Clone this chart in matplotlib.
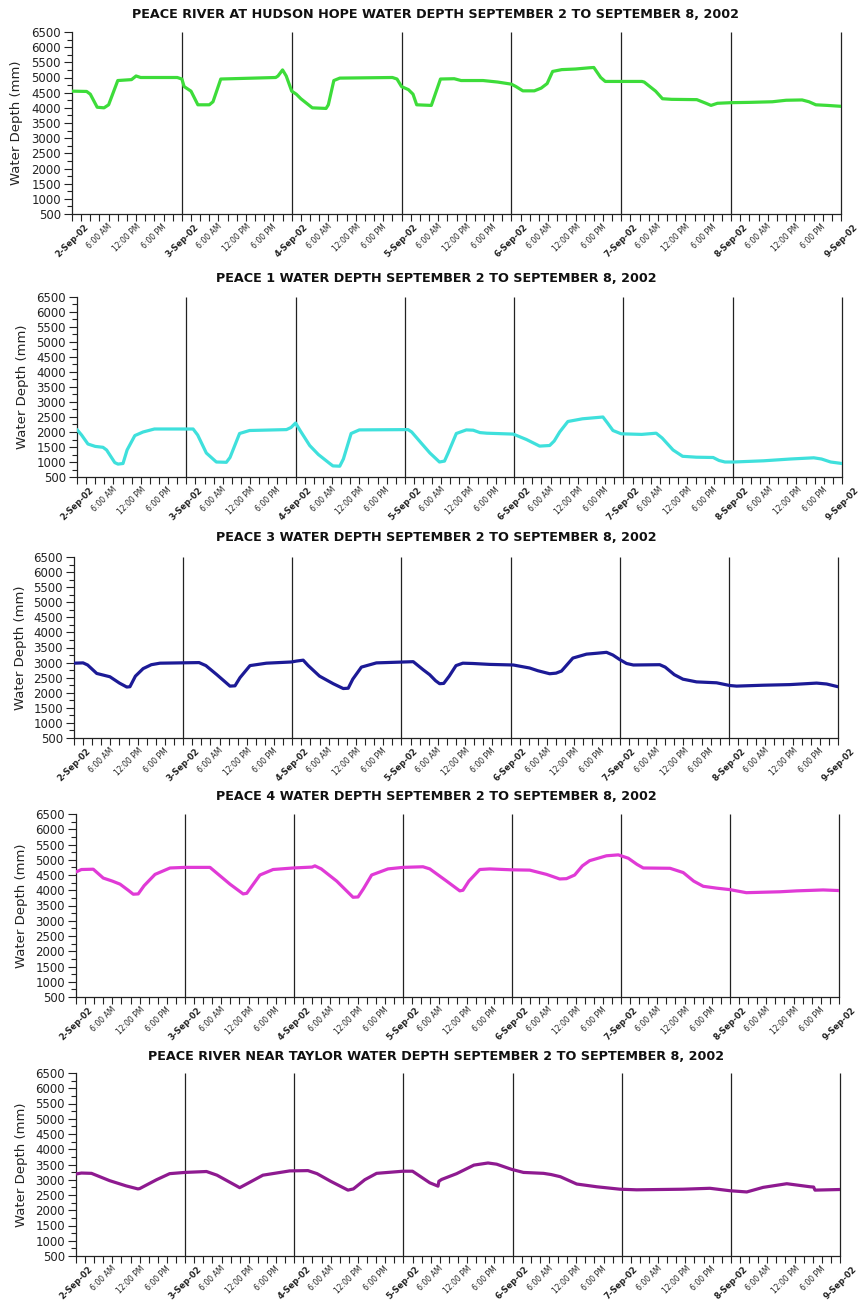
import matplotlib
matplotlib.use("Agg")
import matplotlib.pyplot as plt
from matplotlib.ticker import MultipleLocator, FixedLocator, FixedFormatter

# hours after 2-Sep-02 00:00 and water depth (mm) for each station
hudson_hours = [0, 3.2, 4.0, 5.5, 7.0, 8.0, 10.0, 13.0, 14.0, 15.0, 23.0, 24.0,
                24.5, 26.0, 27.5, 30.0, 30.8, 32.5, 44.5, 45.0, 46.0, 46.8, 48.0,
                49.0, 50.0, 52.5, 55.5, 56.0, 57.2, 58.5, 70.0, 71.0, 72.0,
                73.5, 74.5, 75.3, 78.5, 80.5, 83.5, 85.0, 89.8, 93.0, 96.0,
                97.0, 98.5, 101.0, 102.5, 103.8, 105.0, 107.0, 110.0, 113.0, 114.0,
                115.5, 116.5, 124.5, 125.0, 127.5, 129.0, 131.0, 136.5, 138.5,
                139.6, 141.0, 144.0, 148.0, 153.0, 156.0, 159.5, 161.0, 162.5,
                165.0, 168.0]
hudson_depth = [4550, 4540, 4450, 4020, 4000, 4100, 4900, 4930, 5050, 5000, 5000, 4950,
                4700, 4550, 4100, 4100, 4200, 4950, 5000, 5050, 5250, 5050, 4550,
                4450, 4300, 4000, 3980, 4100, 4900, 4980, 5000, 4950, 4700,
                4600, 4450, 4100, 4080, 4950, 4960, 4900, 4900, 4850, 4780,
                4700, 4560, 4560, 4650, 4800, 5200, 5260, 5280, 5320, 5330,
                5000, 4870, 4870, 4850, 4550, 4300, 4280, 4270, 4150,
                4080, 4150, 4170, 4180, 4200, 4250, 4260, 4200, 4100,
                4080, 4050]

peace1_hours = [0, 1.0, 2.4, 4.0, 5.7, 6.5, 8.3, 9.0, 10.1, 11.0, 12.7, 14.5, 17.0,
                25.5, 26.5, 28.4, 30.6, 32.8, 33.6, 35.7, 37.9, 46.0, 47.0, 48.0,
                49.0, 51.1, 53.0, 55.5, 56.2, 57.7, 58.5, 60.2, 62.0, 72.7, 73.5,
                75.6, 77.5, 79.6, 80.7, 81.5, 83.3, 85.5, 87.0, 88.5, 90.0, 95.8,
                98.7, 101.6, 103.8, 104.8, 106.0, 107.8, 111.0, 115.5, 116.5, 117.7,
                119.5, 124.0, 127.2, 128.5, 130.9, 133.0, 136.0, 139.7, 141.0, 142.3,
                144.2, 150.8, 156.7, 161.8, 163.5, 165.5, 168.0]
peace1_depth = [2080, 1900, 1600, 1520, 1490, 1400, 980, 930, 950, 1400, 1880, 2000, 2100,
                2100, 1900, 1300, 1000, 990, 1150, 1950, 2050, 2080, 2150, 2300,
                2050, 1550, 1250, 950, 870, 860, 1100, 1950, 2070, 2080, 2000,
                1630, 1300, 1000, 1030, 1300, 1950, 2070, 2060, 1980, 1960, 1930,
                1750, 1530, 1550, 1700, 2000, 2350, 2440, 2500, 2300, 2050,
                1940, 1920, 1960, 1800, 1400, 1190, 1160, 1150, 1050, 1000,
                1000, 1040, 1100, 1140, 1100, 1000, 950]

peace3_hours = [0, 2.0, 3.0, 5.0, 7.9, 10.0, 11.6, 12.3, 13.5, 15.2, 17.0, 18.9, 27.5,
                29.0, 31.4, 34.3, 35.4, 36.5, 38.7, 42.3, 47.8, 48.9, 50.4, 51.5,
                54.0, 57.0, 59.2, 60.3, 61.3, 63.2, 66.5, 74.6, 76.8, 78.2, 79.5,
                80.4, 81.3, 82.5, 84.0, 85.5, 87.7, 91.4, 96.6, 100.2, 102.0,
                104.6, 106.0, 107.2, 109.7, 112.7, 115.0, 117.1, 118.5, 120.0,
                121.5, 123.0, 128.8, 130.0, 132.0, 133.9, 136.9, 141.3, 144.2,
                145.7, 151.6, 157.4, 163.3, 165.5, 168.0]
peace3_depth = [2980, 2990, 2920, 2640, 2530, 2320, 2190, 2200, 2550, 2800, 2930, 2980, 3000,
                2900, 2600, 2220, 2230, 2500, 2900, 2980, 3020, 3050, 3080, 2900,
                2550, 2300, 2140, 2150, 2450, 2850, 2990, 3030, 2760, 2600, 2400,
                2300, 2310, 2550, 2900, 2980, 2970, 2940, 2920, 2820, 2730,
                2630, 2650, 2720, 3150, 3280, 3310, 3340, 3250, 3100,
                2970, 2920, 2930, 2850, 2600, 2450, 2360, 2330, 2240,
                2220, 2250, 2270, 2320, 2290, 2200]

peace4_hours = [0, 1.2, 3.8, 6.0, 8.0, 9.7, 11.5, 12.6, 13.7, 15.0, 17.4, 20.7, 24.0,
                29.5, 31.5, 33.9, 36.8, 37.6, 38.8, 40.5, 43.4, 47.8, 52.0, 52.6,
                54.0, 57.4, 61.0, 62.1, 63.3, 65.1, 68.7, 72.0, 76.4, 77.9, 81.6,
                84.5, 85.2, 86.5, 88.9, 91.1, 95.9, 99.9, 103.6, 106.5, 108.0,
                109.8, 111.5, 113.1, 116.8, 119.4, 121.6, 123.5, 124.9, 130.8,
                133.7, 136.0, 138.1, 141.0, 144.0, 147.6, 155.0, 158.7, 164.5, 168.0]
peace4_depth = [4600, 4680, 4690, 4400, 4300, 4200, 4000, 3870, 3880, 4150, 4520, 4730, 4750,
                4750, 4500, 4200, 3880, 3900, 4150, 4500, 4680, 4730, 4760, 4800,
                4700, 4300, 3770, 3780, 4050, 4500, 4700, 4750, 4770, 4700, 4300,
                3980, 4000, 4300, 4680, 4700, 4670, 4660, 4520, 4370, 4380,
                4500, 4800, 4970, 5130, 5160, 5050, 4850, 4730, 4720,
                4580, 4300, 4130, 4070, 4020, 3920, 3950, 3980, 4010, 3990]

taylor_hours = [0, 1.2, 3.4, 7.4, 11.0, 13.6, 14.0, 17.7, 20.6, 23.9, 28.7, 31.0, 36.0,
                38.0, 41.1, 47.0, 51.0, 53.0, 56.0, 59.8, 61.0, 63.5, 66.1, 71.9,
                74.0, 77.8, 79.6, 79.8, 80.4, 83.7, 87.5, 90.6, 92.5, 95.8, 98.4,
                102.8, 104.5, 106.5, 110.1, 114.5, 119.6, 123.3, 133.5, 139.4,
                143.8, 147.5, 151.1, 156.3, 161.4, 162.2, 162.5, 168.0]
taylor_depth = [3190, 3220, 3210, 2970, 2800, 2700, 2710, 3000, 3200, 3240, 3270, 3150, 2740,
                2900, 3150, 3290, 3300, 3200, 2950, 2660, 2700, 3000, 3210, 3280,
                3280, 2900, 2790, 2950, 3010, 3200, 3480, 3550, 3510, 3340, 3240,
                3210, 3170, 3100, 2860, 2770, 2690, 2670, 2690, 2720,
                2640, 2600, 2750, 2870, 2770, 2760, 2660, 2680]

titles = [
    "PEACE RIVER AT HUDSON HOPE WATER DEPTH SEPTEMBER 2 TO SEPTEMBER 8, 2002",
    "PEACE 1 WATER DEPTH SEPTEMBER 2 TO SEPTEMBER 8, 2002",
    "PEACE 3 WATER DEPTH SEPTEMBER 2 TO SEPTEMBER 8, 2002",
    "PEACE 4 WATER DEPTH SEPTEMBER 2 TO SEPTEMBER 8, 2002",
    "PEACE RIVER NEAR TAYLOR WATER DEPTH SEPTEMBER 2 TO SEPTEMBER 8, 2002",
]
colors = ["#3ddc3a", "#3fe0dc", "#1c1a96", "#e03ad6", "#8e1a90"]
series = [(hudson_hours, hudson_depth), (peace1_hours, peace1_depth),
          (peace3_hours, peace3_depth), (peace4_hours, peace4_depth),
          (taylor_hours, taylor_depth)]

day_names = ["2-Sep-02", "3-Sep-02", "4-Sep-02", "5-Sep-02",
             "6-Sep-02", "7-Sep-02", "8-Sep-02", "9-Sep-02"]
time_names = {6: "6:00 AM", 12: "12:00 PM", 18: "6:00 PM"}

W, H = 858, 1302
# axes boxes in pixels: left, top, right, bottom
boxes = [(72, 32, 841, 214), (77, 297, 842, 477), (74, 557, 838, 738),
         (76, 814, 839, 997), (76, 1073, 840, 1256)]
title_y = [15, 278, 538, 797, 1057]
ylabel_x = [17, 23, 21, 22, 22]

fig = plt.figure(figsize=(W / 100, H / 100), dpi=100)

major = list(range(0, 169, 6))
labels = []
for h in major:
    if h % 24 == 0:
        labels.append(day_names[h // 24])
    else:
        labels.append(time_names[h % 24])

for i, (l, t, r, b) in enumerate(boxes):
    ax = fig.add_axes([l / W, 1 - b / H, (r - l) / W, (b - t) / H])
    hrs, dep = series[i]
    ax.plot(hrs, dep, color=colors[i], lw=2.3, solid_joinstyle="round",
            solid_capstyle="round", zorder=3)
    ax.vlines(range(24, 169, 24), 500, 6500, color="#222222", lw=0.9,
              clip_on=False, zorder=2)

    ax.set_xlim(0, 168)
    ax.set_ylim(500, 6500)
    ax.yaxis.set_major_locator(MultipleLocator(500))
    ax.yaxis.set_minor_locator(MultipleLocator(250))
    ax.xaxis.set_major_locator(FixedLocator(major))
    ax.xaxis.set_major_formatter(FixedFormatter(labels))
    ax.xaxis.set_minor_locator(MultipleLocator(2))

    for s in ("top", "right"):
        ax.spines[s].set_visible(False)
    for s in ("left", "bottom"):
        ax.spines[s].set_linewidth(0.9)
        ax.spines[s].set_color("#222222")

    ax.tick_params(axis="y", which="major", length=6, width=0.8, labelsize=8.5,
                   pad=2, colors="#222222")
    ax.tick_params(axis="y", which="minor", length=3.5, width=0.8, colors="#222222")
    ax.tick_params(axis="x", which="both", length=5, width=0.8, colors="#222222",
                   pad=1)
    for h, lab in zip(major, ax.get_xticklabels()):
        lab.set_rotation(45)
        lab.set_ha("center")
        lab.set_va("top")
        if h % 24 == 0:
            lab.set_fontsize(6)
            lab.set_fontweight("bold")
        else:
            lab.set_fontsize(5.5)

    ax.set_ylabel("Water Depth (mm)", fontsize=9.5, color="#222222")
    ax.yaxis.set_label_coords((ylabel_x[i] + 6.5 - l) / (r - l), 0.5)

    fig.text(436 / W, 1 - title_y[i] / H, titles[i], ha="center", va="center",
             fontsize=9.2, fontweight="bold", color="#111111")

fig.savefig("out.png", dpi=100, facecolor="white")
